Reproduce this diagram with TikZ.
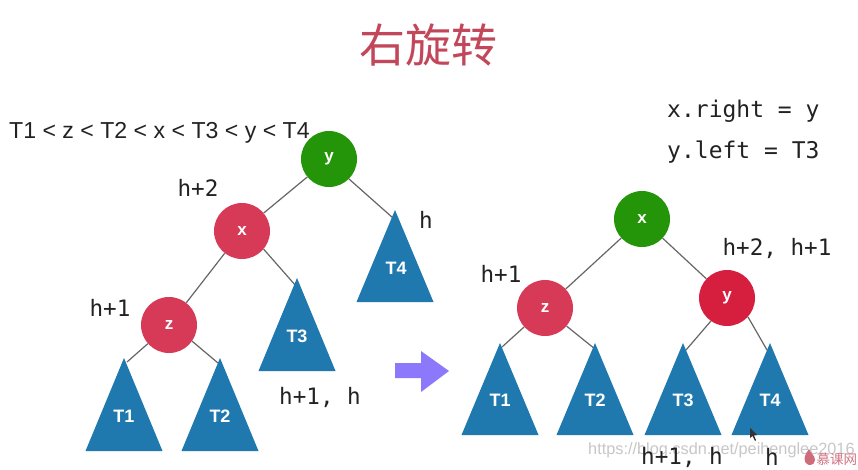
\documentclass[tikz,border=0pt]{standalone}
\usepackage{fontspec}
\setmainfont{Liberation Sans}
\newfontfamily\cjkfont{Noto Sans CJK SC}
\newfontfamily\monofont{DejaVu Sans Mono}
\definecolor{cgreen}{HTML}{249408}
\definecolor{cred}{HTML}{D73A56}
\definecolor{cdeep}{HTML}{D61F3F}
\definecolor{cblue}{HTML}{1F78AE}
\definecolor{carrow}{HTML}{8C78FA}
\definecolor{ctitle}{HTML}{C2475A}
\definecolor{cink}{HTML}{222222}
\definecolor{cline}{HTML}{666666}
\tikzset{
  treenode/.style={circle,minimum size=56pt,inner sep=0pt,text=white,font=\bfseries\fontsize{17}{17}\selectfont},
  greennode/.style={treenode,fill=cgreen},
  rednode/.style={treenode,fill=cred},
  deepnode/.style={treenode,fill=cdeep},
  trilabel/.style={text=white,inner sep=0pt,font=\bfseries\fontsize{18}{18}\selectfont},
  tri/.style={fill=cblue},
  edge/.style={draw=cline,line width=1.2pt},
  monolabel/.style={text=cink,inner sep=0pt,font=\monofont\fontsize{22.6}{23}\selectfont},
  wm/.style={inner sep=0pt,text=black!22,font=\fontsize{16.3}{17}\selectfont}
}
\newcommand{\tridraw}[3]{\path[tri] (#1,#2) -- (#1-38.5,#2+#3) -- (#1+38.5,#2+#3) -- cycle;}
\begin{document}
\begin{tikzpicture}[x=1pt,y=-1pt]
\useasboundingbox[fill=white] (0,0) rectangle (858,469);
% title
\node[inner sep=0pt,text=ctitle,font=\cjkfont\fontsize{46}{46}\selectfont] (title) at (428.5,45) {右旋转};
% left tree
\node[greennode] (ly) at (329,159) {y};
\node[rednode] (lx) at (242,231) {x};
\node[rednode] (lz) at (169,325) {z};
\coordinate (la1) at (127,362);
\coordinate (la2) at (218,363);
\coordinate (la3) at (296,286);
\coordinate (la4) at (393,218);
\draw[edge] (ly) -- (lx);
\draw[edge] (lx) -- (lz);
\draw[edge] (lx.-40) -- (la3);
\draw[edge] (ly.-45) -- (la4);
\draw[edge] (lz) -- (la1);
\draw[edge] (lz.-35) -- (la2);
\tridraw{124}{358}{93}
\tridraw{220}{358}{93}
\tridraw{297}{278}{93}
\tridraw{395}{210}{92}
\node[trilabel] (lt1) at (124,416) {T1};
\node[trilabel] (lt2) at (220,416) {T2};
\node[trilabel] (lt3) at (297,336) {T3};
\node[trilabel] (lt4) at (396,268) {T4};
\node[anchor=west,inner sep=0pt,text=cink,font=\fontsize{23.1}{24}\selectfont] (order) at (9,133) {T1 < z < T2 < x < T3 < y < T4};
\node[monolabel] (lh2) at (198,188) {h+2};
\node[monolabel] (lh1) at (110,308) {h+1};
\node[monolabel] (lh) at (426,220) {h};
\node[monolabel] (lh3) at (320,397) {h+1, h};
% arrow
\path[fill=carrow] (395,363) -- (421,363) -- (421,351) -- (449,371) -- (421,392) -- (421,378) -- (395,378) -- cycle;
% code
\node[anchor=west,monolabel,font=\monofont\fontsize{23}{23}\selectfont] (code1) at (667,111) {x.right = y};
\node[anchor=west,monolabel,font=\monofont\fontsize{23}{23}\selectfont] (code2) at (667,152.5) {y.left = T3};
% right tree
\node[greennode] (rx) at (642,219) {x};
\node[rednode] (rz) at (545,308) {z};
\node[deepnode] (ry) at (727,298) {y};
\coordinate (ra1) at (502,347);
\coordinate (ra2) at (595,349);
\coordinate (ra3) at (686,350);
\coordinate (ra4) at (767,350);
\draw[edge] (rx) -- (rz);
\draw[edge] (rx) -- (ry);
\draw[edge] (rz) -- (ra1);
\draw[edge] (rz.-40) -- (ra2);
\draw[edge] (ry.-125) -- (ra3);
\draw[edge] (ry.-42) -- (ra4);
\tridraw{500}{343}{92}
\tridraw{595}{343}{92}
\tridraw{683}{343}{92}
\tridraw{770}{343}{92}
\node[trilabel] (rt1) at (500,400) {T1};
\node[trilabel] (rt2) at (595,400) {T2};
\node[trilabel] (rt3) at (683,400) {T3};
\node[trilabel] (rt4) at (770,400) {T4};
\node[monolabel] (rh1) at (501,274) {h+1};
\node[monolabel] (rh2) at (777,248) {h+2, h+1};
% watermark (behind the labels)
\node[anchor=west,wm] (wm) at (588,450) {https://blog.csdn.net/peihenglee2016};
\node[monolabel] (rh3) at (682,457) {h+1, h};
\node[monolabel] (rh4) at (772,457) {h};
% cursor
\path[fill=black!80] (750,428) -- (750,438) -- (752.5,436) -- (755,441) -- (756,440) -- (754,435.5) -- (757,435) -- cycle;
\path[fill=ctitle!80] (809,465) .. controls (802,462) and (804,456) .. (809,449) .. controls (810,453) and (815,455) .. (815,460) .. controls (815,463) and (813,465) .. (809,465) -- cycle;
\node[anchor=west,inner sep=0pt,text=ctitle!75,font=\cjkfont\fontsize{13.5}{14}\selectfont] (wm2) at (816.5,459) {慕课网};
\end{tikzpicture}
\end{document}
